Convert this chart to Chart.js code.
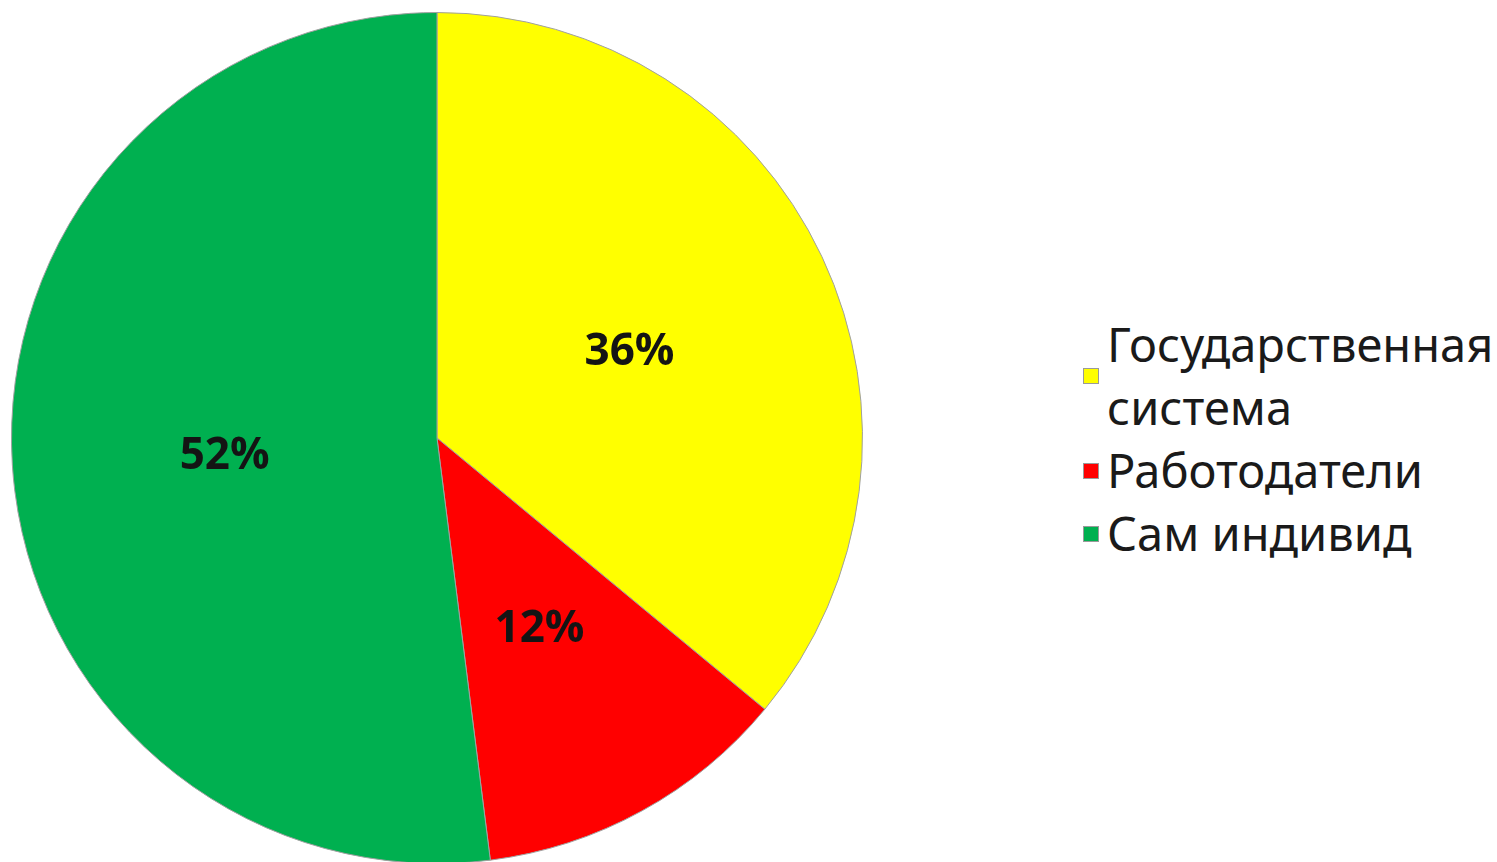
<!DOCTYPE html>
<html lang="ru">
<head>
<meta charset="utf-8">
<script src="https://cdn.jsdelivr.net/npm/chart.js@4.4.1/dist/chart.umd.min.js"></script>
<style>
  html,body{margin:0;padding:0;background:#fff;overflow:hidden;}
  #wrap{position:relative;width:1497px;height:862px;}
  #pieBox{position:absolute;left:0;top:0;width:874px;height:876px;}
  #legend{position:absolute;left:1083px;top:313px;font-family:"Noto Sans",sans-serif;font-size:47px;color:#1a1a1a;}
  .item{display:flex;align-items:center;line-height:63px;}
  .sw{width:14px;height:14px;border:1px solid #9a9a9a;margin-right:8px;flex:none;}
</style>
</head>
<body>
<div id="wrap">
  <div id="pieBox"><canvas id="pie"></canvas></div>
  <div id="legend"></div>
</div>
<script>
// data
const labels = ['Государственная\nсистема', 'Работодатели', 'Сам индивид'];
const shares = [36, 12, 52];
const colors = ['#FFFF00', '#FF0000', '#00B050'];

// percent labels inside slices
const sliceLabels = {
  id: 'sliceLabels',
  afterDatasetsDraw(chart){
    const ctx = chart.ctx;
    const meta = chart.getDatasetMeta(0);
    ctx.save();
    ctx.font = 'bold 44px "Open Sans", sans-serif';
    ctx.fillStyle = '#141414';
    ctx.textAlign = 'center';
    ctx.textBaseline = 'alphabetic';
    meta.data.forEach((arc, i) => {
      const p = arc.tooltipPosition();
      ctx.fillText(shares[i] + '%', p.x, p.y + 18);
    });
    ctx.restore();
  }
};

function buildLegend(){
  const el = document.getElementById('legend');
  el.innerHTML = labels.map((l, i) =>
    `<div class="item"><div class="sw" style="background:${colors[i]}"></div><div>${l.replace('\n', '<br>')}</div></div>`
  ).join('');
}

window.addEventListener('load', () => {
  buildLegend();
  const ctx = document.getElementById('pie').getContext('2d');
  window.pieChart = new Chart(ctx, {
    type: 'pie',
    data: { labels, datasets: [{ data: shares, backgroundColor: colors, borderColor: '#a0a0a0', borderWidth: 1 }] },
    options: {
      responsive: true,
      maintainAspectRatio: false,
      animation: false,
      layout: { padding: 11 },
      plugins: { legend: { display: false }, tooltip: { enabled: false } }
    },
    plugins: [sliceLabels]
  });
});
</script>
</body>
</html>
